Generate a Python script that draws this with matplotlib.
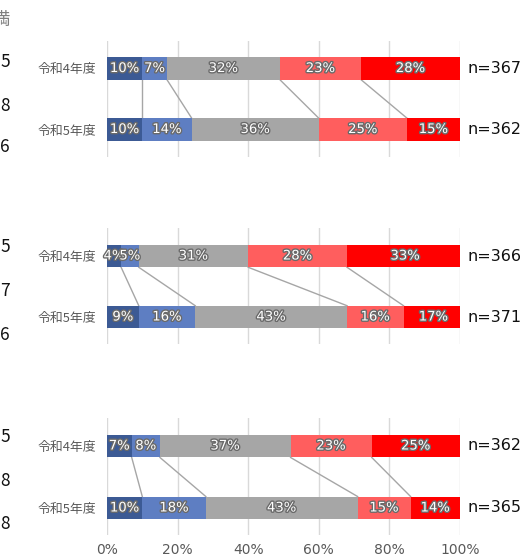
import matplotlib
matplotlib.use("Agg")
import matplotlib.pyplot as plt
import matplotlib.patheffects as pe

plt.rcParams['font.family'] = ['Noto Sans CJK JP', 'DejaVu Sans']

years = ['令和4年度', '令和5年度']
# three panels, each: [R4 values, R5 values]
panel1 = [[10, 7, 32, 23, 28], [10, 14, 36, 25, 15]]
panel2 = [[4, 5, 31, 28, 33], [9, 16, 43, 16, 17]]
panel3 = [[7, 8, 37, 23, 25], [10, 18, 43, 15, 14]]
n_counts = [[367, 362], [366, 371], [362, 365]]
ticks = [0, 20, 40, 60, 80, 100]
tick_labels = ['0%', '20%', '40%', '60%', '80%', '100%']
edge_texts = ['満', '5', '8', '6', '5', '7', '6', '5', '8', '8']

colors = ['#3C5A94', '#5E7EC2', '#A6A6A6', '#FF5E5E', '#FF0000']
W, H = 527, 558

fig = plt.figure(figsize=(W / 100, H / 100), dpi=100)

# centres (px) of the two bars in each panel
centers = [(68.5, 129.5), (256, 317), (446, 508)]
panels = [panel1, panel2, panel3]
x0, x1 = 107, 460
bh = 0.37

for k, (data, (c4, c5)) in enumerate(zip(panels, centers)):
    top, bot = c4 - 28, c5 + 27
    step = c5 - c4
    ax = fig.add_axes([x0 / W, 1 - bot / H, (x1 - x0) / W, (bot - top) / H])
    ax.set_xlim(0, 100)
    ax.set_ylim((bot - c4) / step, -(c4 - top) / step)
    for sp in ax.spines.values():
        sp.set_visible(False)
    for t in ticks:
        ax.axvline(t, color='#D9D9D9', lw=1, zorder=0)

    cums = []
    for row, vals in enumerate(data):
        left = 0
        cum = []
        for i, v in enumerate(vals):
            ax.barh(row, v, left=left, height=bh, color=colors[i], zorder=2)
            ax.text(left + v / 2, row, f'{v}%', ha='center', va='center',
                    color='white', fontsize=9.5, family='DejaVu Sans',
                    zorder=4,
                    path_effects=[pe.withStroke(linewidth=2, foreground='#6A6A6A')])
            left += v
            cum.append(left)
        cums.append(cum)
        ax.text(102, row, f'n={n_counts[k][row]}', ha='left', va='center',
                fontsize=11.5, color='#111111', family='DejaVu Sans', clip_on=False)

    for i in range(4):
        ax.plot([cums[0][i], cums[1][i]], [bh / 2, 1 - bh / 2],
                color='#A6A6A6', lw=1, zorder=1)

    ax.set_yticks([0, 1])
    ax.set_yticklabels(years, fontsize=9.3, color='#595959')
    ax.tick_params(axis='y', length=0, pad=8)
    ax.set_xticks(ticks)
    if k == 2:
        ax.set_xticklabels(tick_labels, fontsize=10, color='#595959', family='DejaVu Sans')
        ax.tick_params(axis='x', length=0, pad=6)
    else:
        ax.set_xticklabels([])
        ax.tick_params(axis='x', length=0)

# clipped text remnants at left edge
edge_y = [20, 62, 106, 147, 247, 291, 335, 437, 481, 524]
for s, y in zip(edge_texts, edge_y):
    fig.text(10 / W, 1 - y / H, s, ha='right', va='center', fontsize=12.5,
             color='#7F7F7F' if s == '満' else '#111111')

fig.savefig('out.png', dpi=100)
